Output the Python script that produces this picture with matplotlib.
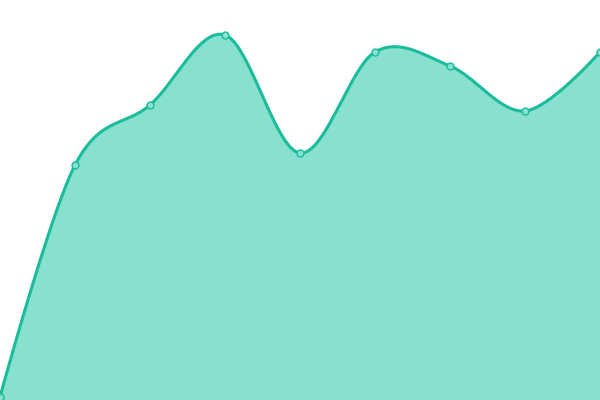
import numpy as np
import matplotlib
matplotlib.use("Agg")
import matplotlib.pyplot as plt

# values (0..400 scale, bottom = 0)
xs = [0, 1, 2, 3, 4, 5, 6, 7, 8]
ys = [3, 235, 295, 365, 247, 348, 334, 289, 348]


def smooth_curve(x, y, n=40):
    # catmull-rom style control points inside, none at the two end points
    pts = np.column_stack([x, y]).astype(float)
    k = len(pts)
    t = np.linspace(0, 1, n)[:, None]
    out = []
    for i in range(k - 1):
        p0, p3 = pts[i], pts[i + 1]
        c1 = p0 if i == 0 else p0 + (p3 - pts[i - 1]) / 6
        c2 = p3 if i == k - 2 else p3 - (pts[i + 2] - p0) / 6
        b = (1 - t) ** 3 * p0 + 3 * (1 - t) ** 2 * t * c1 + 3 * (1 - t) * t ** 2 * c2 + t ** 3 * p3
        out.append(b)
    out = np.vstack(out)
    return out[:, 0], out[:, 1]


sx, sy = smooth_curve(xs, ys)

fig = plt.figure(figsize=(6, 4), dpi=100)
ax = fig.add_axes([0, 0, 1, 1])
ax.fill_between(sx, 0, sy, color='#88e0cf', lw=0)
ax.plot(sx, sy, color='#1abc9c', lw=2.2, solid_capstyle='round')
ax.plot(xs, ys, 'o', ms=5, mfc='#88e0cf', mec='#1abc9c', mew=1)
ax.set_xlim(0, 8)
ax.set_ylim(0, 400)
ax.axis('off')
fig.savefig('out.png', dpi=100)
